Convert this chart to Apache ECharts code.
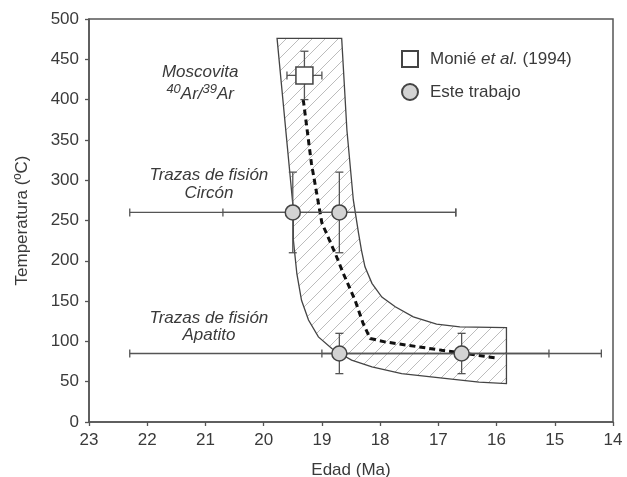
<!DOCTYPE html>
<html>
<head>
<meta charset="utf-8">
<script src="https://cdn.jsdelivr.net/npm/echarts@6/dist/echarts.min.js"></script>
<style>
html, body { margin: 0; padding: 0; background: #fff; }
#chart { width: 627px; height: 477px; }
</style>
</head>
<body>
<div id="chart"></div>
<script>
// ejes
var xMin = 14, xMax = 23, xStep = 1;
var yMin = 0, yMax = 500, yStep = 50;

// Monié et al. (1994): [edad, temp, edadMax, edadMin, tempMin, tempMax]
var monieData = [[19.3, 430, 19.6, 19.0, 400, 460]];

// Este trabajo (circón y apatito)
var esteData = [
	[19.5, 260, 22.3, 16.7, 210, 310],
	[18.7, 260, 20.7, 16.7, 210, 310],
	[18.7, 85, 22.3, 15.1, 60, 110],
	[16.6, 85, 19.0, 14.2, 60, 110]
];

// banda rayada: borde izquierdo/inferior y borde derecho/superior
var bandLower = [
	[19.77, 476], [19.49, 263], [19.49, 226], [19.43, 184], [19.35, 151],
	[19.23, 126.5], [19.06, 105.6], [18.83, 91.2], [18.69, 85], [18.49, 76.7],
	[18.14, 68.3], [17.63, 60.1], [16.89, 54], [16.3, 49.5], [15.83, 47.7]
];
var bandUpper = [
	[15.83, 117], [16.63, 118], [17.03, 121.4], [17.43, 130.5], [17.74, 143],
	[17.97, 155], [18.14, 172], [18.26, 192.6], [18.32, 213], [18.37, 234],
	[18.46, 275.5], [18.57, 362], [18.66, 476]
];

// curva de enfriamiento (discontinua)
var trendLine = [
	[19.32, 400], [19.18, 321], [19.00, 247], [18.77, 209], [18.63, 184],
	[18.43, 151], [18.29, 122], [18.17, 103.6], [17.92, 99.4], [16.94, 89],
	[16.63, 86], [15.97, 79]
];

// textos
var noteText = ['Moscovita', '{s|40}{b|Ar/}{s|39}{b|Ar}', 'Trazas de fisión', 'Circón', 'Trazas de fisión', 'Apatito'];
var notePos = [[21.09, 434], [21.09, 408], [20.94, 306], [20.94, 284], [20.94, 129], [20.94, 107]];

var FONT = '"Liberation Sans", Arial, sans-serif';
var TXT = '#3a3a3a';
var FS = 17;

function hatchPattern() {
	var n = 13;
	var c = document.createElement('canvas');
	c.width = n; c.height = n;
	var ctx = c.getContext('2d');
	ctx.fillStyle = '#fff';
	ctx.fillRect(0, 0, n, n);
	ctx.strokeStyle = '#bcbcbc';
	ctx.lineWidth = 1;
	ctx.beginPath();
	ctx.moveTo(-1, n + 1); ctx.lineTo(n + 1, -1);
	ctx.moveTo(-1, 1); ctx.lineTo(1, -1);
	ctx.moveTo(n - 1, n + 1); ctx.lineTo(n + 1, n - 1);
	ctx.stroke();
	return c;
}

var myChart = echarts.init(document.getElementById('chart'));

function renderBand(params, api) {
	var pts = bandLower.concat(bandUpper).map(function (p) { return api.coord(p); });
	return {
		type: 'polygon',
		shape: { points: pts },
		style: {
			fill: { image: hatchPattern(), repeat: 'repeat' },
			stroke: '#444',
			lineWidth: 1.3
		}
	};
}

function renderErr(params, api) {
	var x = api.value(0), y = api.value(1);
	var a = api.coord([api.value(2), y]);
	var b = api.coord([api.value(3), y]);
	var lo = api.coord([x, api.value(4)]);
	var hi = api.coord([x, api.value(5)]);
	var cap = 4;
	var st = { stroke: '#555', lineWidth: 1.3 };
	function ln(x1, y1, x2, y2) {
		return { type: 'line', shape: { x1: x1, y1: y1, x2: x2, y2: y2 }, style: st };
	}
	return {
		type: 'group',
		children: [
			ln(a[0], a[1], b[0], b[1]),
			ln(a[0], a[1] - cap, a[0], a[1] + cap),
			ln(b[0], b[1] - cap, b[0], b[1] + cap),
			ln(lo[0], lo[1], hi[0], hi[1]),
			ln(lo[0] - cap, lo[1], lo[0] + cap, lo[1]),
			ln(hi[0] - cap, hi[1], hi[0] + cap, hi[1])
		]
	};
}

function renderNote(params, api) {
	var p = api.coord([api.value(0), api.value(1)]);
	return {
		type: 'text',
		x: p[0],
		y: p[1],
		style: {
			text: noteText[params.dataIndex],
			font: 'italic ' + FS + 'px ' + FONT,
			fill: TXT,
			align: 'center',
			verticalAlign: 'middle',
			rich: {
				s: { font: 'italic 13px ' + FONT, fill: TXT, verticalAlign: 'top' },
				b: { font: 'italic ' + FS + 'px ' + FONT, fill: TXT, verticalAlign: 'bottom', lineHeight: 20 }
			}
		}
	};
}

var option = {
	backgroundColor: '#fff',
	animation: false,
	grid: {
		left: 89, right: 14, top: 19, bottom: 55,
		outerBoundsMode: 'none',
		containLabel: false,
		show: true, borderColor: '#555', borderWidth: 1.5
	},
	legend: {
		orient: 'vertical',
		left: 401,
		top: 50,
		padding: 0,
		itemWidth: 16,
		itemHeight: 16,
		itemGap: 15,
		selectedMode: false,
		data: ['Monié et al. (1994)', 'Este trabajo'],
		formatter: function (name) {
			return name === 'Monié et al. (1994)' ? '{n|Monié }{i|et al.}{n| (1994)}' : '{n|' + name + '}';
		},
		textStyle: {
			padding: [0, 0, 0, 7],
			rich: {
				n: { fontSize: FS, fontFamily: FONT, color: TXT },
				i: { fontSize: FS, fontFamily: FONT, color: TXT, fontStyle: 'italic' }
			}
		}
	},
	xAxis: {
		type: 'value',
		inverse: true,
		min: xMin, max: xMax, interval: xStep,
		name: 'Edad (Ma)',
		nameLocation: 'middle',
		nameGap: 40,
		nameTextStyle: { fontSize: FS, fontFamily: FONT, color: TXT },
		axisLine: { lineStyle: { color: '#555', width: 1.5 } },
		axisTick: { show: true, length: 4, lineStyle: { color: '#555', width: 1.3 } },
		axisLabel: { fontSize: FS, fontFamily: FONT, color: TXT, margin: 10 },
		splitLine: { show: false }
	},
	yAxis: {
		type: 'value',
		min: yMin, max: yMax, interval: yStep,
		name: 'Temperatura (ºC)',
		nameLocation: 'middle',
		nameGap: 58,
		nameTextStyle: { fontSize: FS, fontFamily: FONT, color: TXT },
		axisLine: { show: true, lineStyle: { color: '#555', width: 1.5 } },
		axisTick: { show: true, length: 4, lineStyle: { color: '#555', width: 1.3 } },
		axisLabel: { fontSize: FS, fontFamily: FONT, color: TXT, margin: 10 },
		splitLine: { show: false }
	},
	series: [
		{
			type: 'custom',
			name: 'banda',
			renderItem: renderBand,
			data: [bandLower[0]],
			z: 1,
			silent: true
		},
		{
			type: 'line',
			name: 'tendencia',
			data: trendLine,
			showSymbol: false,
			symbol: 'none',
			lineStyle: { color: '#111', width: 3, type: [6, 4] },
			z: 2,
			silent: true
		},
		{
			type: 'custom',
			name: 'err1',
			renderItem: renderErr,
			data: monieData,
			z: 3
		},
		{
			type: 'custom',
			name: 'err2',
			renderItem: renderErr,
			data: esteData,
			z: 3
		},
		{
			type: 'scatter',
			name: 'Monié et al. (1994)',
			data: monieData.map(function (d) { return [d[0], d[1]]; }),
			symbol: 'rect',
			symbolSize: 17,
			itemStyle: { color: '#fff', borderColor: '#444', borderWidth: 1.5, opacity: 1 },
			z: 4
		},
		{
			type: 'scatter',
			name: 'Este trabajo',
			data: esteData.map(function (d) { return [d[0], d[1]]; }),
			symbol: 'circle',
			symbolSize: 15,
			itemStyle: { color: '#d3d3d3', borderColor: '#444', borderWidth: 1.5, opacity: 1 },
			z: 4
		},
		{
			type: 'custom',
			name: 'notas',
			renderItem: renderNote,
			data: notePos,
			z: 5,
			silent: true
		}
	]
};

myChart.setOption(option);

window.addEventListener('resize', function () {
	myChart.resize();
});
</script>
</body>
</html>
